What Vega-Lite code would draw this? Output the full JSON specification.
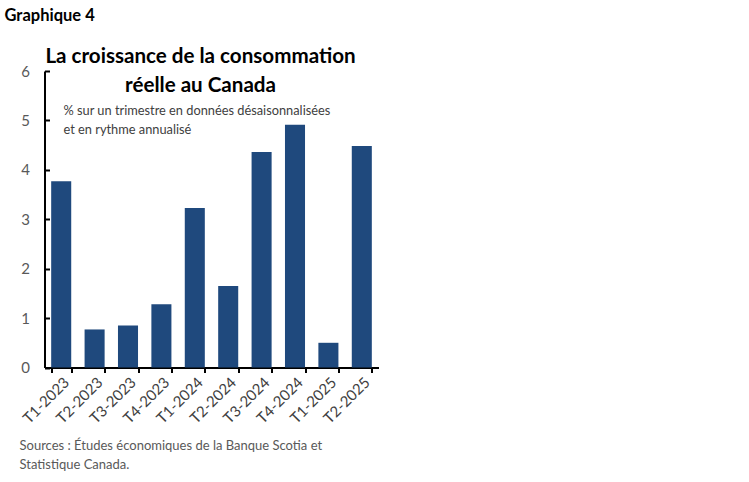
{
  "$schema": "https://vega.github.io/schema/vega-lite/v6.json",
  "description": "La croissance de la consommation réelle au Canada, T1-2023 à T2-2025",
  "autosize": "none",
  "width": 334,
  "height": 296.5,
  "padding": {"left": 44.5, "top": 71, "right": 370.5, "bottom": 114.5},
  "background": "white",
  "data": {
    "values": [
      {"trimestre": "T1-2023", "croissance": 3.77},
      {"trimestre": "T2-2023", "croissance": 0.77},
      {"trimestre": "T3-2023", "croissance": 0.85},
      {"trimestre": "T4-2023", "croissance": 1.28},
      {"trimestre": "T1-2024", "croissance": 3.23},
      {"trimestre": "T2-2024", "croissance": 1.65},
      {"trimestre": "T3-2024", "croissance": 4.36},
      {"trimestre": "T4-2024", "croissance": 4.91},
      {"trimestre": "T1-2025", "croissance": 0.5},
      {"trimestre": "T2-2025", "croissance": 4.48}
    ]
  },
  "layer": [
    {
      "mark": {"type": "bar", "color": "#1f497d"},
      "encoding": {
        "x": {
          "field": "trimestre",
          "type": "nominal",
          "sort": null,
          "scale": {"paddingInner": 0.4, "paddingOuter": 0.2},
          "axis": {
            "orient": "bottom",
            "title": ["Sources : Études économiques de la Banque Scotia et", "Statistique Canada."],
            "titleX": -25.5,
            "titleY": 81.5,
            "titleAlign": "left",
            "titleBaseline": "alphabetic",
            "titleAngle": 0,
            "titleFont": "Lato",
            "titleFontSize": 13,
            "titleFontWeight": "normal",
            "titleColor": "#595959",
            "titleLineHeight": 19.5,
            "labelAngle": -45,
            "labelFont": "Lato",
            "labelFontSize": 15,
            "labelColor": "#404040",
            "labelPadding": 2,
            "tickBand": "extent",
            "tickSize": 5,
            "tickWidth": 2,
            "tickColor": "black",
            "domainColor": "black",
            "domainWidth": 2
          }
        },
        "y": {
          "field": "croissance",
          "type": "quantitative",
          "scale": {"domain": [0, 6]},
          "axis": {
            "orient": "left",
            "values": [0, 1, 2, 3, 4, 5, 6],
            "grid": false,
            "title": ["% sur un trimestre en données désaisonnalisées", "et en rythme annualisé"],
            "titleX": 18.5,
            "titleY": 43,
            "titleAlign": "left",
            "titleBaseline": "alphabetic",
            "titleAngle": 0,
            "titleFont": "Lato",
            "titleFontSize": 12.8,
            "titleFontWeight": "normal",
            "titleColor": "#404040",
            "titleLineHeight": 19,
            "labelFont": "Lato",
            "labelFontSize": 15,
            "labelColor": "#595959",
            "labelPadding": 20,
            "tickSize": -5,
            "tickWidth": 2,
            "tickColor": "black",
            "domainColor": "black",
            "domainWidth": 2
          }
        }
      }
    },
    {
      "mark": {"type": "bar", "opacity": 0},
      "encoding": {
        "x": {
          "field": "trimestre",
          "type": "nominal",
          "sort": null,
          "axis": {
            "orient": "top",
            "title": "Graphique 4",
            "titleX": -40.5,
            "titleY": -51,
            "titleAlign": "left",
            "titleBaseline": "alphabetic",
            "titleFont": "Lato",
            "titleFontSize": 16.5,
            "titleFontWeight": "bold",
            "titleColor": "black",
            "labels": false,
            "ticks": false,
            "domain": false
          }
        },
        "y": {
          "field": "croissance",
          "type": "quantitative",
          "axis": {
            "orient": "right",
            "title": ["La croissance de la consommation", "réelle au Canada"],
            "titleX": -178.5,
            "titleY": -9,
            "titleAlign": "center",
            "titleBaseline": "alphabetic",
            "titleAngle": 0,
            "titleFont": "Lato",
            "titleFontSize": 20.6,
            "titleFontWeight": "bold",
            "titleColor": "black",
            "titleLineHeight": 29,
            "labels": false,
            "ticks": false,
            "domain": false,
            "grid": false
          }
        }
      }
    }
  ],
  "resolve": {"axis": {"x": "independent", "y": "independent"}},
  "config": {
    "view": {"stroke": null}
  }
}
